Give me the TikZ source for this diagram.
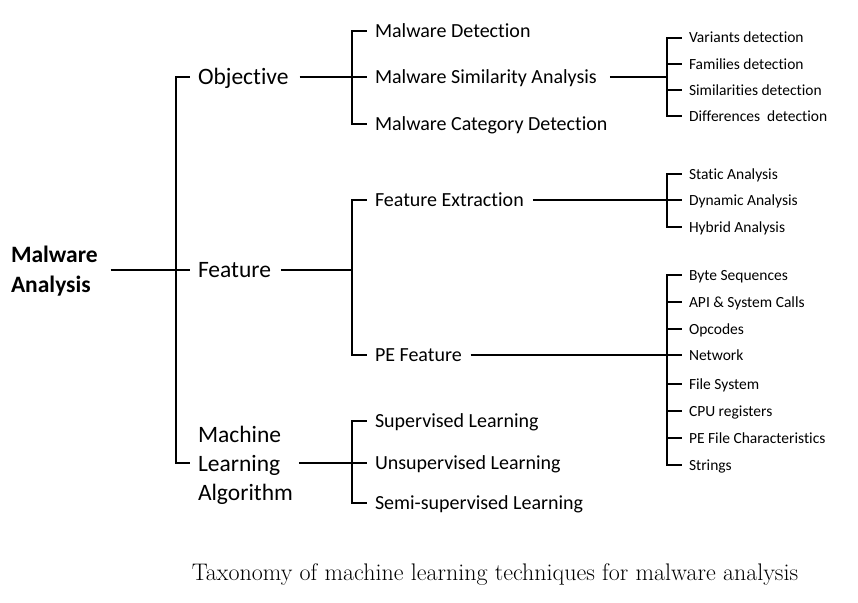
\documentclass[tikz,border=0pt]{standalone}
\usepackage{fontspec}
\newfontfamily\carl[Ligatures=NoCommon]{Carlito}
\begin{document}
\begin{tikzpicture}[x=1pt,y=-1pt,line width=2pt,
  lvA/.style={anchor=west,inner sep=0pt,font=\carl\fontsize{23.5}{29}\selectfont,text height=15pt,text depth=0pt},
  lvAm/.style={anchor=west,inner sep=0pt,align=left,font=\carl\fontsize{23.5}{29}\selectfont},
  rootnode/.style={anchor=west,inner sep=0pt,align=left,font=\carl\bfseries\fontsize{23.5}{30}\selectfont},
  lvB/.style={anchor=west,inner sep=0pt,font=\carl\fontsize{20}{24}\selectfont,text height=12.9pt,text depth=0pt},
  lvC/.style={anchor=west,inner sep=0pt,font=\carl\fontsize{15.5}{18}\selectfont,text height=10pt,text depth=0pt},
  captext/.style={font=\fontsize{24}{28}\selectfont,inner sep=0pt}]
\useasboundingbox (0,0) rectangle (858,602);
\fill[white] (0,0) rectangle (858,602);

% root and level 1
\node[rootnode] (root) at (10,271) {Malware\\Analysis};
\coordinate (j0) at (176,270);
\node[lvA] (obj) at (197,77) {Objective};
\node[lvA] (feat) at (197,270) {Feature};
\node[lvAm] (mla) at (197,465) {Machine\\Learning\\Algorithm};
\draw ([xshift=12pt]root.east |- j0) -- (j0);
\draw (j0) |- ([xshift=-7pt]obj.west);
\draw (j0) -- ([xshift=-7pt]feat.west);
\coordinate (j0b) at (176,463);
\draw (j0) -- (j0b) -- ([xshift=-7pt]mla.west |- j0b);

% Objective
\coordinate (j1) at (352,77);
\node[lvB] (md) at (374,31) {Malware Detection};
\node[lvB] (msa) at (374,77) {Malware Similarity Analysis};
\node[lvB] (mcd) at (374,124) {Malware Category Detection};
\draw ([xshift=10pt]obj.east) -- (j1);
\draw (j1) |- ([xshift=-7pt]md.west);
\draw (j1) -- ([xshift=-7pt]msa.west);
\draw (j1) |- ([xshift=-7pt]mcd.west);

% Similarity
\coordinate (j2) at (667,77);
\node[lvC] (vd) at (688,38) {Variants detection};
\node[lvC] (fd) at (688,64) {Families detection};
\node[lvC] (sd) at (688,90) {Similarities detection};
\node[lvC] (dd) at (688,116) {Differences\ \ detection};
\draw ([xshift=12pt]msa.east) -- (j2);
\foreach \n in {vd,fd,sd,dd} \draw (j2) |- ([xshift=-6pt]\n.west);

% Feature
\coordinate (j3) at (352,270);
\node[lvB] (fe) at (374,200) {Feature Extraction};
\node[lvB] (pe) at (374,355) {PE Feature};
\draw ([xshift=9pt]feat.east) -- (j3);
\draw (j3) |- ([xshift=-7pt]fe.west);
\draw (j3) |- ([xshift=-7pt]pe.west);

% Feature extraction
\coordinate (j4) at (667,200);
\node[lvC] (sa) at (688,174) {Static Analysis};
\node[lvC] (da) at (688,200) {Dynamic Analysis};
\node[lvC] (ha) at (688,227) {Hybrid Analysis};
\draw ([xshift=8pt]fe.east) -- (j4);
\foreach \n in {sa,da,ha} \draw (j4) |- ([xshift=-6pt]\n.west);

% PE feature
\coordinate (j5) at (667,355);
\node[lvC] (bs) at (688,275) {Byte Sequences};
\node[lvC] (api) at (688,302) {API \& System Calls};
\node[lvC] (op) at (688,329) {Opcodes};
\node[lvC] (nw) at (688,355) {Network};
\node[lvC] (fs) at (688,384) {File System};
\node[lvC] (cpu) at (688,411) {CPU registers};
\node[lvC] (pfc) at (688,438) {PE File Characteristics};
\node[lvC] (str) at (688,465) {Strings};
\draw ([xshift=8pt]pe.east) -- (j5);
\foreach \n in {bs,api,op,nw,fs,cpu,pfc,str} \draw (j5) |- ([xshift=-6pt]\n.west);

% ML algorithm
\coordinate (j6) at (352,463);
\node[lvB] (sup) at (374,421) {Supervised Learning};
\node[lvB] (uns) at (374,463) {Unsupervised Learning};
\node[lvB] (semi) at (374,503) {Semi-supervised Learning};
\path (mla.east |- j6) coordinate (mlaE);
\draw ([xshift=5pt]mlaE) -- (j6);
\draw (j6) |- ([xshift=-7pt]sup.west);
\draw (j6) -- ([xshift=-7pt]uns.west);
\draw (j6) |- ([xshift=-7pt]semi.west);

% caption
\node[captext] (cap) at (495,575) {Taxonomy of machine learning techniques for malware analysis};
\end{tikzpicture}
\end{document}
